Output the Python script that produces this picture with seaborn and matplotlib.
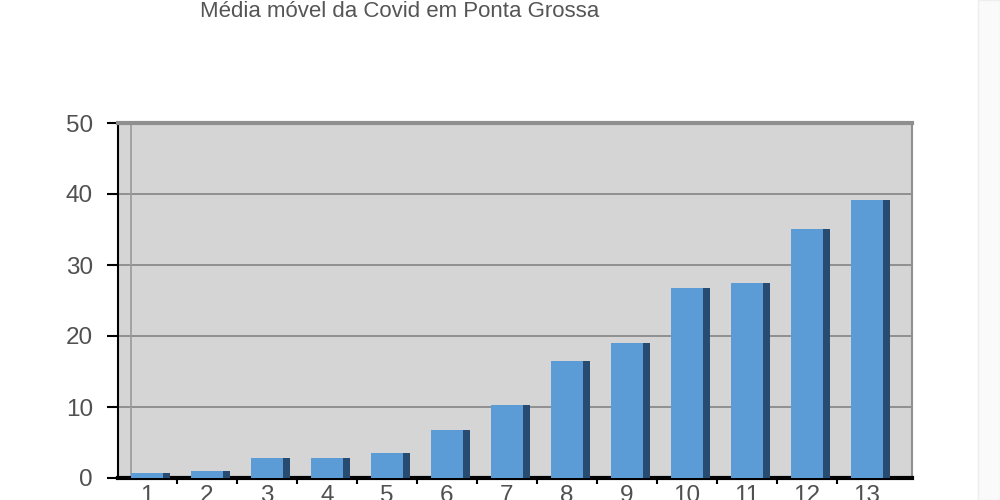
import numpy as np
import pandas as pd
import matplotlib
matplotlib.use("Agg")
import matplotlib.pyplot as plt
import seaborn as sns

# Data
categories = ["1", "2", "3", "4", "5", "6", "7", "8", "9", "10", "11", "12", "13"]
values = [0.7, 1.0, 2.8, 2.8, 3.5, 6.8, 10.3, 16.5, 19.0, 26.8, 27.5, 35.0, 39.1]
yticks = [0, 10, 20, 30, 40, 50]
title = "Média móvel da Covid em Ponta Grossa"

sns.set_theme(style="white")
plt.rcParams['font.family'] = ['Liberation Sans', 'DejaVu Sans']

fig = plt.figure(figsize=(10, 5), dpi=100)
ax = fig.add_axes([0.118, 0.044, 0.794, 0.710])
ax.set_facecolor("#d5d5d5")

pos = np.arange(len(categories))
df = pd.DataFrame({"pos": pos, "side": pos + 0.12, "value": values})

# dark side faces (3D look)
sns.barplot(data=df, x="side", y="value", native_scale=True, width=0.52,
            color="#284b72", saturation=1, linewidth=0, ax=ax, zorder=3)
# front faces
sns.barplot(data=df, x="pos", y="value", native_scale=True, width=0.52,
            color="#5b9bd6", saturation=1, linewidth=0, ax=ax, zorder=4)

ax.set_xlim(-0.483, 12.75)
ax.set_ylim(0, 50)
ax.set_xlabel("")
ax.set_ylabel("")

ax.set_yticks(yticks)
ax.set_yticklabels([str(t) for t in yticks], fontsize=17.5, color="#505050")
ax.set_xticks(pos)
ax.set_xticklabels(categories, fontsize=17.5, color="#505050")
ax.set_xticks(pos[:-1] + 0.5, minor=True)

ax.tick_params(axis="y", which="major", direction="out", length=8, width=1.5,
               color="black", left=True, pad=10)
ax.tick_params(axis="x", which="major", length=0, pad=5)
ax.tick_params(axis="x", which="minor", direction="out", length=4, width=1.5,
               color="black", bottom=True)

# gridlines on back wall
for t in yticks[1:-1]:
    ax.axhline(t, color="#8a8a8a", lw=1.3, zorder=1)
# back wall left edge
ax.axvline(-0.27, color="#9a9a9a", lw=1.2, zorder=1)

for side in ["left", "bottom"]:
    ax.spines[side].set_color("black")
ax.spines["left"].set_linewidth(1.5)
ax.spines["bottom"].set_linewidth(3)
ax.spines["top"].set_color("#8f8f8f")
ax.spines["top"].set_linewidth(3)
ax.spines["right"].set_color("#8f8f8f")
ax.spines["right"].set_linewidth(1.5)
for s in ax.spines.values():
    s.set_visible(True)

fig.text(0.40, 1 - 17 / 500, title, ha="center", va="baseline",
         fontsize=16, color="#555555")

# faint right-hand strip
fig.patches.append(plt.Rectangle((0.978, 0), 0.022, 1, transform=fig.transFigure,
                                 facecolor="#fafafa", edgecolor="#eeeeee",
                                 linewidth=1, zorder=-1))

fig.savefig("out.png", dpi=100)
